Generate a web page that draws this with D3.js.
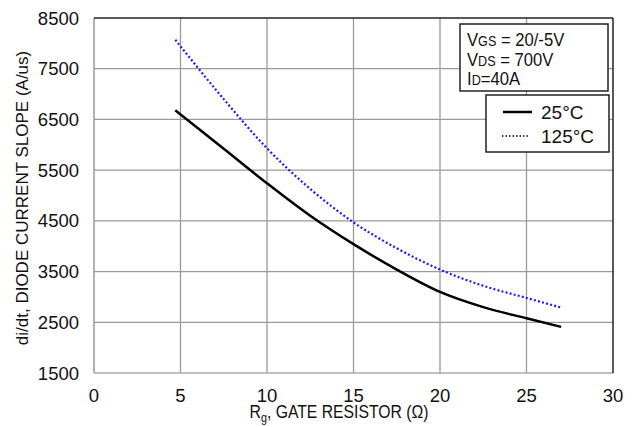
<!DOCTYPE html>
<html>
<head>
<meta charset="utf-8">
<script src="https://cdn.jsdelivr.net/npm/d3@7"></script>
<style>
  body { margin: 0; background: #fff; }
  text { font-family: "Liberation Sans", Arial, sans-serif; fill: #111; }
</style>
</head>
<body>
<div id="app"></div>
<script>
let rg = [4.7, 7.5, 10, 12.5, 15, 17.5, 20, 22.5, 25, 27];
let slope25 = [6680, 5920, 5240, 4600, 4040, 3540, 3100, 2800, 2580, 2410];
let slope125 = [8070, 6900, 5930, 5130, 4470, 3960, 3540, 3220, 2980, 2790];
let xTicks = [0, 5, 10, 15, 20, 25, 30];
let yTicks = [1500, 2500, 3500, 4500, 5500, 6500, 7500, 8500];

let width = 632, height = 427;
let margin = {top: 18, right: 19, bottom: 54, left: 94};

let svg = d3.select('#app').append('svg')
    .attr('width', width)
    .attr('height', height)

let x = d3.scaleLinear().domain([0, 30]).range([margin.left, width - margin.right])
let y = d3.scaleLinear().domain([1500, 8500]).range([height - margin.bottom, margin.top])

// grid
svg.append('g').selectAll('line')
  .data(xTicks.slice(1, -1))
  .enter().append('line')
    .attr('x1', d => x(d)).attr('x2', d => x(d))
    .attr('y1', y(1500)).attr('y2', y(8500))
    .style('stroke', '#9a9a9a').style('stroke-width', 1.3)

svg.append('g').selectAll('line')
  .data(yTicks.slice(1, -1))
  .enter().append('line')
    .attr('x1', x(0)).attr('x2', x(30))
    .attr('y1', d => y(d)).attr('y2', d => y(d))
    .style('stroke', '#9a9a9a').style('stroke-width', 1.3)

// frame: left/bottom gray, top/right dark
svg.append('line').attr('x1', x(0)).attr('x2', x(0)).attr('y1', y(1500)).attr('y2', y(8500))
   .style('stroke', '#999').style('stroke-width', 1.5)
svg.append('line').attr('x1', x(0)).attr('x2', x(30)).attr('y1', y(1500)).attr('y2', y(1500))
   .style('stroke', '#aaa').style('stroke-width', 1.5)
svg.append('line').attr('x1', x(0)).attr('x2', x(30)).attr('y1', y(8500)).attr('y2', y(8500))
   .style('stroke', '#222').style('stroke-width', 1.5)
svg.append('line').attr('x1', x(30)).attr('x2', x(30)).attr('y1', y(1500)).attr('y2', y(8500))
   .style('stroke', '#222').style('stroke-width', 1.5)

// tick labels
svg.append('g').selectAll('text')
  .data(yTicks)
  .enter().append('text')
    .attr('x', margin.left - 15)
    .attr('y', d => y(d) + 6.5)
    .attr('text-anchor', 'end')
    .style('font-size', '18.5px')
    .text(d => d)

svg.append('g').selectAll('text')
  .data(xTicks)
  .enter().append('text')
    .attr('x', d => x(d))
    .attr('y', 402)
    .attr('text-anchor', 'middle')
    .style('font-size', '18.5px')
    .text(d => d)

// axis titles
let xt = svg.append('text')
    .attr('transform', 'translate(339,418) scale(0.9,1)')
    .attr('text-anchor', 'middle')
    .style('font-size', '17.5px')
xt.append('tspan').text('R')
xt.append('tspan').attr('dy', 4).style('font-size', '12px').text('g')
xt.append('tspan').attr('dy', -4).text(', GATE RESISTOR (Ω)')

svg.append('text')
    .attr('transform', 'translate(28,' + 198 + ') rotate(-90)')
    .attr('text-anchor', 'middle')
    .style('font-size', '17px')
    .text('di/dt, DIODE CURRENT SLOPE (A/us)')

// curves
let line = d3.line()
    .x(d => x(d[0]))
    .y(d => y(d[1]))
    .curve(d3.curveMonotoneX)

svg.append('path')
    .datum(d3.zip(rg, slope125))
    .attr('d', line)
    .style('fill', 'none')
    .style('stroke', '#1a1aff')
    .style('stroke-width', 2.2)
    .style('stroke-dasharray', '2,2.2')

svg.append('path')
    .datum(d3.zip(rg, slope25))
    .attr('d', line)
    .style('fill', 'none')
    .style('stroke', '#000')
    .style('stroke-width', 2.5)

// condition box
svg.append('rect')
    .attr('x', 460).attr('y', 24).attr('width', 148).attr('height', 67)
    .style('fill', '#fff').style('stroke', '#222').style('stroke-width', 1.5)

let conds = [['V', 'GS', ' = 20/-5V'], ['V', 'DS', ' = 700V'], ['I', 'D', '=40A']];
conds.forEach(function(c, i) {
  let t = svg.append('text')
      .attr('transform', 'translate(467,' + (46 + i * 19.5) + ') scale(0.9,1)')
      .style('font-size', '18.5px')
  t.append('tspan').text(c[0])
  t.append('tspan').style('font-size', '14px').text(c[1])
  t.append('tspan').text(c[2])
})

// legend box
svg.append('rect')
    .attr('x', 486).attr('y', 95).attr('width', 123).attr('height', 57)
    .style('fill', '#fff').style('stroke', '#222').style('stroke-width', 1.5)

svg.append('line').attr('x1', 503).attr('x2', 532).attr('y1', 112).attr('y2', 112)
   .style('stroke', '#000').style('stroke-width', 2.5)
svg.append('line').attr('x1', 502).attr('x2', 530).attr('y1', 136).attr('y2', 136)
   .style('stroke', '#000').style('stroke-width', 1.6).style('stroke-dasharray', '1.5,2')

svg.append('text').attr('x', 541).attr('y', 119).style('font-size', '19px').text('25°C')
svg.append('text').attr('x', 541).attr('y', 143).style('font-size', '19px').text('125°C')
</script>
</body>
</html>
